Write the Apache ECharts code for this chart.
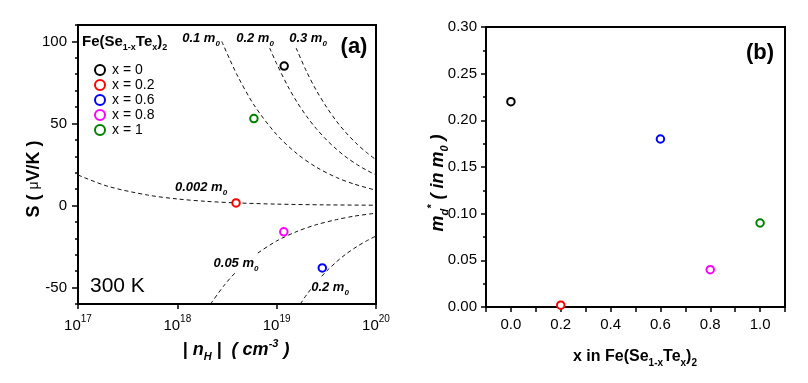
<!DOCTYPE html>
<html>
<head>
<meta charset="utf-8">
<script src="https://cdn.jsdelivr.net/npm/echarts/dist/echarts.min.js"></script>
<style>
html,body{margin:0;padding:0;background:#fff;}
#chart{width:808px;height:383px;}
</style>
</head>
<body>
<div id="chart"></div>
<script>
// ---------- data ----------
const samples = ['x = 0', 'x = 0.2', 'x = 0.6', 'x = 0.8', 'x = 1'];
const sampleN = [1.19e19, 3.9e18, 2.88e19, 1.18e19, 5.9e18];   // |n_H| (cm^-3)
const sampleS = [85, 1.6, -38, -16, 53];                         // S (uV/K)
const compX = [0, 0.2, 0.6, 0.8, 1.0];                           // x in Fe(Se1-xTex)2
const mdValues = [0.22, 0.002, 0.18, 0.04, 0.09];                // m_d* (in m0)

// dashed reference curves
const curveN_01 = [2.8e18, 4e18, 6e18, 1e19, 1.6e19, 2.5e19, 4e19, 6e19, 1e20];
const curveS_01 = [100, 79.5, 60.7, 43.2, 31.6, 23.4, 17.1, 13.1, 9.3];
const curveN_02 = [8.5e18, 1e19, 1.3e19, 1.6e19, 2e19, 2.5e19, 3.2e19, 4e19, 5e19, 6.5e19, 8e19, 1e20];
const curveS_02 = [96, 86.4, 72.5, 63.1, 54.4, 46.9, 39.8, 34.3, 29.5, 24.8, 21.6, 18.6];
const curveN_03 = [1.57e19, 2e19, 2.5e19, 3.2e19, 4e19, 5e19, 6.5e19, 8e19, 1e20];
const curveS_03 = [96, 81.6, 70.3, 59.7, 51.4, 44.3, 37.2, 32.4, 27.9];
const curveN_0002 = [1e17, 2e17, 5e17, 1e18, 2e18, 4e18, 1e19, 3e19, 1e20];
const curveS_0002 = [18.6, 11.7, 6.4, 4.0, 2.5, 1.6, 0.86, 0.41, 0.19];
const curveN_005n = [2.16e18, 3e18, 4e18, 6e18, 1e19, 1.6e19, 2.5e19, 4e19, 6e19, 1e20];
const curveS_005n = [-60, -48.2, -39.8, -30.4, -21.6, -15.8, -11.7, -8.6, -6.5, -4.65];
const curveN_02n = [1.73e19, 2e19, 2.5e19, 3.2e19, 4e19, 5e19, 6.5e19, 8e19, 1e20];
const curveS_02n = [-60, -54.4, -46.9, -39.8, -34.3, -29.5, -24.8, -21.6, -18.6];

// tick values
const leftXTicks = [1e17, 1e18, 1e19, 1e20];
const leftYTicks = [-50, 0, 50, 100];
const leftYMinor = [-60, -40, -30, -20, -10, 10, 20, 30, 40, 60, 70, 80, 90, 110];
const rightXTicks = [0, 0.2, 0.4, 0.6, 0.8, 1.0];
const rightXMinor = [-0.1, 0.1, 0.3, 0.5, 0.7, 0.9, 1.1];

// ---------- style ----------
const colors = ['#000000', '#ff0000', '#0000ff', '#ff00ff', '#008000'];
const FF = '"Liberation Sans", Arial, sans-serif';

const zip = (a, b) => a.map((v, i) => [v, b[i]]);

const curveStyle = {
  type: 'line', xAxisIndex: 0, yAxisIndex: 0, smooth: 0.3, symbol: 'none', silent: true,
  lineStyle: { color: '#111', width: 1, type: [4, 3] }, z: 2
};
const curves = [
  [curveN_01, curveS_01], [curveN_02, curveS_02], [curveN_03, curveS_03],
  [curveN_0002, curveS_0002], [curveN_005n, curveS_005n], [curveN_02n, curveS_02n]
].map((c, i) => Object.assign({}, curveStyle, { name: 'c' + i, data: zip(c[0], c[1]) }));

const sampleSeries = samples.map((name, i) => ({
  type: 'scatter', name: name, xAxisIndex: 0, yAxisIndex: 0,
  symbol: 'emptyCircle', symbolSize: 7.5,
  itemStyle: { color: colors[i], borderWidth: 2, opacity: 1 },
  data: [[sampleN[i], sampleS[i]]], z: 5
}));

const mdSeries = {
  type: 'scatter', name: 'md', xAxisIndex: 1, yAxisIndex: 2,
  symbol: 'emptyCircle', symbolSize: 7.5, clip: false,
  data: compX.map((x, i) => ({ value: [x, mdValues[i]], itemStyle: { color: colors[i], borderWidth: 2, opacity: 1 } })),
  z: 5
};

const tickLabel = { color: '#000', fontFamily: FF };
const supRich = {
  b: { fontSize: 15, lineHeight: 19, verticalAlign: 'bottom', fontFamily: FF, color: '#000' },
  sup: { fontSize: 10, lineHeight: 10, verticalAlign: 'top', fontFamily: FF, color: '#000' }
};

function subRich(size, weight, style) {
  return {
    m: { fontSize: size, fontWeight: weight, fontStyle: style, fontFamily: FF, color: '#000', lineHeight: size + 6, verticalAlign: 'middle' },
    s: { fontSize: Math.round(size * 0.62), fontWeight: weight, fontStyle: style, fontFamily: FF, color: '#000', lineHeight: size + 6, verticalAlign: 'bottom' },
    u: { fontSize: Math.round(size * 0.62), fontWeight: weight, fontStyle: style, fontFamily: FF, color: '#000', lineHeight: size + 6, verticalAlign: 'top' },
    n: { fontSize: Math.round(size * 0.75), fontWeight: 'normal', fontStyle: 'normal', fontFamily: FF, color: '#000', lineHeight: size + 6, verticalAlign: 'middle' }
  };
}

function txt(x, y, text, size, weight, style, opts) {
  return Object.assign({
    type: 'text', x: x, y: y, z: 20,
    style: Object.assign({
      text: text, rich: subRich(size, weight, style), align: 'center', verticalAlign: 'middle'
    }, (opts && opts.style) || {})
  }, (opts && opts.el) || {});
}

const option = {
  animation: false,
  backgroundColor: '#fff',
  grid: [
    { left: 78, top: 25, width: 298, height: 279, show: true, borderColor: '#000', borderWidth: 2, backgroundColor: 'transparent' },
    { left: 486, top: 27, width: 299, height: 280, show: true, borderColor: '#000', borderWidth: 2, backgroundColor: 'transparent' }
  ],
  legend: {
    data: samples, orient: 'vertical', left: 89, top: 58, itemWidth: 14, itemHeight: 10, itemGap: 1,
    selectedMode: false,
    itemStyle: { borderWidth: 2 },
    textStyle: { fontSize: 14, fontFamily: FF, color: '#000' }
  },
  xAxis: [
    {
      type: 'log', logBase: 10, gridIndex: 0, min: 1e17, max: 1e20,
      axisLine: { onZero: false, lineStyle: { color: '#000', width: 2 } },
      axisTick: { customValues: leftXTicks, length: 5, lineStyle: { color: '#000', width: 1.5 } },
      axisLabel: Object.assign({}, tickLabel, {
        customValues: leftXTicks, margin: 10,
        formatter: v => '{b|10}{sup|' + Math.round(Math.log10(v)) + '}', rich: supRich
      }),
      splitLine: { show: false }, minorTick: { show: false }
    },
    {
      type: 'value', gridIndex: 1, min: -0.1, max: 1.1,
      axisLine: { onZero: false, lineStyle: { color: '#000', width: 2 } },
      axisTick: { customValues: rightXTicks.concat(rightXMinor), length: 5, lineStyle: { color: '#000', width: 1.5 } },
      axisLabel: Object.assign({}, tickLabel, {
        customValues: rightXTicks, margin: 10, fontSize: 15, formatter: v => v.toFixed(1)
      }),
      splitLine: { show: false }
    }
  ],
  yAxis: [
    {
      type: 'value', gridIndex: 0, min: -60, max: 110,
      axisLine: { onZero: false, lineStyle: { color: '#000', width: 2 } },
      axisTick: { customValues: leftYTicks, length: 6, lineStyle: { color: '#000', width: 1.5 } },
      axisLabel: Object.assign({}, tickLabel, { customValues: leftYTicks, margin: 11, fontSize: 15 }),
      splitLine: { show: false }
    },
    {
      type: 'value', gridIndex: 0, min: -60, max: 110, position: 'left',
      axisLine: { show: false, onZero: false },
      axisTick: { customValues: leftYMinor, length: 3, lineStyle: { color: '#000', width: 1.5 } },
      axisLabel: { show: false }, splitLine: { show: false }
    },
    {
      type: 'value', gridIndex: 1, min: 0, max: 0.3, interval: 0.05,
      axisLine: { onZero: false, lineStyle: { color: '#000', width: 2 } },
      axisTick: { length: 5, lineStyle: { color: '#000', width: 1.5 } },
      minorTick: { show: true, splitNumber: 2, length: 3, lineStyle: { color: '#000', width: 1.5 } },
      axisLabel: Object.assign({}, tickLabel, { margin: 9, fontSize: 15, formatter: v => v.toFixed(2) }),
      splitLine: { show: false }
    }
  ],
  graphic: [
    // legend title
    { type: 'text', x: 82, y: 42, z: 20, style: { text: '{m|Fe(Se}{s|1-x}{m|Te}{s|x}{m|)}{s|2}', rich: subRich(15, 'bold', 'normal'), align: 'left', verticalAlign: 'middle' } },
    // curve labels
    txt(201, 38, '{m|0.1 m}{s|0}', 13, 'bold', 'italic'),
    txt(255, 38, '{m|0.2 m}{s|0}', 13, 'bold', 'italic'),
    txt(308, 38, '{m|0.3 m}{s|0}', 13, 'bold', 'italic'),
    txt(201, 187, '{m|0.002 m}{s|0}', 13, 'bold', 'italic'),
    txt(236, 263, '{m|0.05 m}{s|0}', 13, 'bold', 'italic', { style: { backgroundColor: '#fff' } }),
    txt(330, 287, '{m|0.2 m}{s|0}', 13, 'bold', 'italic', { style: { backgroundColor: '#fff' } }),
    // panel labels
    txt(354, 47, '{m|(a)}', 22, 'bold', 'normal'),
    txt(760, 53, '{m|(b)}', 22, 'bold', 'normal'),
    { type: 'text', x: 90, y: 286, z: 20, style: { text: '300 K', font: '21px ' + FF, fill: '#000', align: 'left', verticalAlign: 'middle' } },
    // axis titles
    txt(34, 179, '{m|S ( }{n|μ}{m|V/K )}', 18, 'bold', 'normal', { el: { rotation: Math.PI / 2 } }),
    txt(236, 350, '{m|| }{m|n}{s|H}{m| |  ( cm}{u|-3}{m| )}', 18, 'bold', 'italic'),
    txt(438, 183, '{m|m}{s|d}{u|*}{m| ( in m}{s|0}{m| )}', 18, 'bold', 'italic', { el: { rotation: Math.PI / 2 } }),
    txt(635, 357, '{m|x in Fe(Se}{s|1-x}{m|Te}{s|x}{m|)}{s|2}', 16, 'bold', 'normal')
  ],
  series: curves.concat(sampleSeries, [mdSeries])
};

const chart = echarts.init(document.getElementById('chart'), null, { renderer: 'canvas' });
chart.setOption(option);
</script>
</body>
</html>
